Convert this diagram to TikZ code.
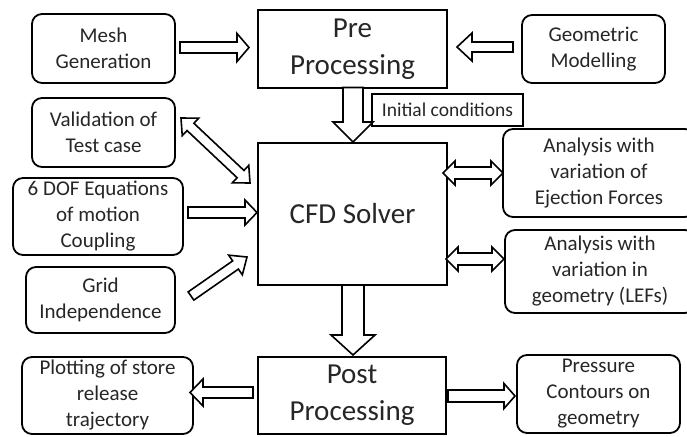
\documentclass[tikz,border=0pt]{standalone}
\usepackage{fontspec}
\setmainfont{Carlito}
\usetikzlibrary{calc}
\tikzset{
  rbox/.style={draw=black, line width=1.8pt, rounded corners=10pt, align=center, inner sep=0pt,
     font=\fontsize{21}{26}\selectfont, text=black!85},
  sbox/.style={draw=black, line width=1.8pt, align=center, inner sep=0pt,
     font=\fontsize{29}{37}\selectfont, text=black!85},
  ibox/.style={draw=black, line width=1.6pt, align=center, inner sep=0pt,
     font=\fontsize{19.5}{23}\selectfont, text=black!85},
  barrow/.style={draw=black, fill=white, line width=1.6pt, line join=miter}
}
\newcommand{\sarr}[5]{%
  \coordinate (hb) at ($(#2)!#5!(#1)$);
  \draw[barrow] ($(#1)!#3!90:(#2)$) -- ($(hb)!#3!90:(#2)$) -- ($(hb)!#4!90:(#2)$) -- (#2)
     -- ($(hb)!#4!-90:(#2)$) -- ($(hb)!#3!-90:(#2)$) -- ($(#1)!#3!-90:(#2)$) -- cycle;}
\newcommand{\darr}[5]{%
  \coordinate (hb) at ($(#2)!#5!(#1)$);
  \coordinate (ta) at ($(#1)!#5!(#2)$);
  \draw[barrow] (#1) -- ($(ta)!#4!90:(#2)$) -- ($(ta)!#3!90:(#2)$) -- ($(hb)!#3!90:(#2)$)
     -- ($(hb)!#4!90:(#2)$) -- (#2) -- ($(hb)!#4!-90:(#2)$) -- ($(hb)!#3!-90:(#2)$)
     -- ($(ta)!#3!-90:(#2)$) -- ($(ta)!#4!-90:(#2)$) -- cycle;}
\begin{document}
\begin{tikzpicture}[x=1pt, y=-1pt]
\useasboundingbox (0,0) rectangle (687,436);
% boxes
\node[rbox, minimum width=143pt, minimum height=69pt] (mesh) at (103.5,48.5) {Mesh\\Generation};
\node[sbox, minimum width=189pt, minimum height=78pt] (pre) at (352.5,49) {Pre\\Processing};
\node[rbox, minimum width=143pt, minimum height=68pt] (geo) at (593.5,49) {Geometric\\Modelling};
\node[ibox, minimum width=151pt, minimum height=32pt] (init) at (447.5,110) {Initial conditions};
\node[rbox, minimum width=143pt, minimum height=69pt] (valid) at (103.5,132.5) {Validation of\\Test case};
\node[rbox, minimum width=170pt, minimum height=77pt] (dof) at (98,216.5) {6 DOF Equations\\of motion\\Coupling};
\node[rbox, minimum width=149pt, minimum height=66pt] (grid) at (100.5,300) {Grid\\Independence};
\node[sbox, minimum width=189pt, minimum height=142pt] (cfd) at (352.5,214) {CFD Solver};
\node[rbox, minimum width=192pt, minimum height=88pt] (ejec) at (599,173) {Analysis with\\variation of\\Ejection Forces};
\node[rbox, minimum width=190pt, minimum height=83pt] (lefs) at (600,271.5) {Analysis with\\variation in\\geometry (LEFs)};
\node[sbox, minimum width=188pt, minimum height=77pt] (post) at (352,395.5) {Post\\Processing};
\node[rbox, minimum width=171pt, minimum height=77pt] (plot) at (107.5,395.5) {Plotting of store\\release\\trajectory};
\node[rbox, minimum width=163pt, minimum height=78pt] (press) at (598.5,394) {Pressure\\Contours on\\geometry};
% arrow end points
\coordinate (a1s) at (180,47.5);  \coordinate (a1e) at (249,47.5);
\coordinate (a2s) at (513,47);    \coordinate (a2e) at (457,47);
\coordinate (a3s) at (353,87.5);  \coordinate (a3e) at (353,142);
\coordinate (a4s) at (181,118);   \coordinate (a4e) at (250,183);
\coordinate (a5s) at (188,212.5); \coordinate (a5e) at (257,212.5);
\coordinate (a6s) at (191,296);   \coordinate (a6e) at (247,257);
\coordinate (a7s) at (443,173);   \coordinate (a7e) at (503,173);
\coordinate (a8s) at (446,259);   \coordinate (a8e) at (504,259);
\coordinate (a9s) at (353,285);   \coordinate (a9e) at (353,355);
\coordinate (a10s) at (253,392.5); \coordinate (a10e) at (190,392.5);
\coordinate (a11s) at (448,396);  \coordinate (a11e) at (515,396);
% arrows
\sarr{a1s}{a1e}{5.5pt}{14pt}{12pt}
\sarr{a2s}{a2e}{5pt}{14pt}{15pt}
\sarr{a3s}{a3e}{10pt}{20pt}{20pt}
\darr{a4s}{a4e}{5pt}{12pt}{13pt}
\sarr{a5s}{a5e}{5.5pt}{12.5pt}{12pt}
\sarr{a6s}{a6e}{5pt}{12pt}{14pt}
\darr{a7s}{a7e}{6pt}{12pt}{12pt}
\darr{a8s}{a8e}{6pt}{12pt}{12pt}
\sarr{a9s}{a9e}{11pt}{22pt}{20pt}
\sarr{a10s}{a10e}{5.5pt}{13.5pt}{13pt}
\sarr{a11s}{a11e}{6pt}{12.5pt}{11pt}
\end{tikzpicture}
\end{document}
